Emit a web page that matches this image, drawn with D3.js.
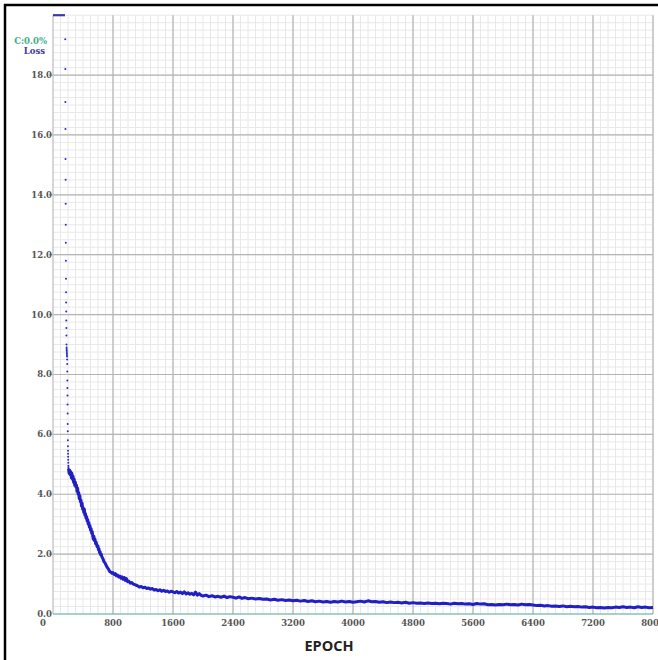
<!DOCTYPE html>
<html><head><meta charset="utf-8">
<script src="https://cdn.jsdelivr.net/npm/d3@7"></script>
<style>html,body{margin:0;padding:0;background:#fff;}svg{display:block;}</style>
</head><body>
<svg id="chart" width="658" height="660"></svg>
<script>
// ---- data ----
const xTicks = [0, 800, 1600, 2400, 3200, 4000, 4800, 5600, 6400, 7200, 8000];
const yTicks = [0, 2, 4, 6, 8, 10, 12, 14, 16, 18];
const legendLabels = ["C:0.0%", "Loss"];
const xLabel = "EPOCH";

// early epochs: loss above the top of the axis (clipped at 20)
const clippedEpochs = [0, 40, 80, 120, 160];
const clippedLoss = [20, 20, 20, 20, 20];

// steep drop: one dot per epoch
const dotEpochs = [163,164,165,166,167,168,169,170,171,172,173,174,175,176,177,178,179,180,181,182,183,184,185,186,187,188,189,190,191,192,193,194,195,196,197,198,199,200,201,202,203,204,205,206,207];
const dotLoss = [19.2,18.2,17.1,16.2,15.2,14.5,13.7,13.0,12.4,11.8,11.2,10.75,10.4,10.1,9.8,9.55,9.3,9.0,8.9,8.85,8.8,8.75,8.7,8.65,8.6,8.5,8.35,8.1,7.8,7.55,7.3,7.0,6.7,6.35,6.1,5.8,5.6,5.45,5.35,5.25,5.15,5.05,4.95,4.9,4.85];

// main loss curve
const curveEpochs = [208,215,222,230,238,245,252,260,268,275,283,290,298,305,313,320,328,335,343,350,358,365,373,380,388,395,403,410,418,425,433,440,448,455,463,470,478,485,493,500,508,515,523,530,538,545,553,560,568,575,583,590,598,605,613,620,628,635,643,650,665,680,695,710,725,740,755,770,785,800,815,830,845,860,875,890,905,920,935,950,965,980,995,1010,1030,1050,1070,1090,1110,1130,1150,1175,1200,1225,1250,1275,1300,1325,1350,1375,1400,1425,1450,1475,1500,1525,1550,1575,1600,1625,1650,1675,1700,1725,1750,1775,1800,1825,1850,1875,1900,1925,1950,1975,2000,2040,2080,2120,2160,2200,2240,2280,2320,2360,2400,2440,2480,2520,2560,2600,2650,2700,2750,2800,2850,2900,2950,3000,3050,3100,3150,3200,3250,3300,3350,3400,3450,3500,3550,3600,3650,3700,3750,3800,3850,3900,3950,4000,4050,4100,4150,4200,4250,4300,4350,4400,4450,4500,4550,4600,4650,4700,4750,4800,4850,4900,4950,5000,5050,5100,5150,5200,5250,5300,5350,5400,5450,5500,5550,5600,5650,5700,5750,5800,5850,5900,5950,6000,6050,6100,6150,6200,6250,6300,6350,6400,6450,6500,6550,6600,6650,6700,6750,6800,6850,6900,6950,7000,7050,7100,7150,7200,7250,7300,7350,7400,7450,7500,7550,7600,7650,7700,7750,7800,7850,7900,7950,8000];
const curveLoss = [4.85,4.7,4.8,4.65,4.75,4.55,4.7,4.5,4.6,4.4,4.5,4.3,4.4,4.25,4.3,4.1,4.2,4.0,4.05,3.85,3.95,3.75,3.8,3.6,3.7,3.5,3.55,3.4,3.5,3.3,3.35,3.2,3.25,3.1,3.15,3.0,3.05,2.9,2.95,2.8,2.85,2.7,2.75,2.6,2.5,2.6,2.45,2.5,2.35,2.4,2.3,2.25,2.28,2.15,2.18,2.05,2.08,1.98,2.0,1.92,1.85,1.75,1.7,1.62,1.55,1.5,1.42,1.4,1.36,1.38,1.32,1.35,1.28,1.3,1.24,1.27,1.2,1.24,1.16,1.22,1.12,1.18,1.08,1.1,1.03,1.05,1.0,0.98,0.96,0.94,0.9,0.92,0.88,0.89,0.85,0.87,0.83,0.85,0.8,0.82,0.78,0.81,0.76,0.79,0.75,0.77,0.73,0.76,0.74,0.71,0.75,0.7,0.73,0.68,0.74,0.67,0.71,0.66,0.69,0.64,0.73,0.63,0.68,0.62,0.6,0.63,0.58,0.61,0.57,0.59,0.56,0.6,0.55,0.58,0.56,0.53,0.57,0.52,0.55,0.51,0.53,0.5,0.52,0.49,0.5,0.47,0.49,0.46,0.48,0.45,0.47,0.44,0.46,0.43,0.45,0.42,0.44,0.41,0.43,0.4,0.42,0.39,0.42,0.4,0.43,0.4,0.42,0.39,0.41,0.43,0.4,0.44,0.41,0.42,0.39,0.41,0.38,0.4,0.38,0.39,0.37,0.39,0.36,0.38,0.36,0.37,0.35,0.37,0.35,0.36,0.34,0.36,0.35,0.33,0.36,0.34,0.35,0.33,0.34,0.32,0.35,0.33,0.34,0.31,0.32,0.3,0.32,0.31,0.33,0.31,0.32,0.3,0.33,0.31,0.32,0.3,0.28,0.29,0.27,0.28,0.26,0.27,0.25,0.27,0.24,0.26,0.24,0.25,0.23,0.24,0.22,0.23,0.21,0.22,0.2,0.22,0.21,0.23,0.22,0.24,0.22,0.23,0.21,0.24,0.22,0.23,0.21,0.22,0.24,0.22,0.23];

// ---- layout ----
const svg = d3.select("#chart");
const W = 658, H = 660;
const mLeft = 53, mRight = 653, mTop = 15.2, mBottom = 614;
const x = d3.scaleLinear().domain([0, 8000]).range([mLeft, mRight]);
const y = d3.scaleLinear().domain([0, 20]).range([mBottom, mTop]).clamp(true);

svg.append("rect").attr("width", W).attr("height", H).attr("fill", "#fff");

// minor grid
const g = svg.append("g");
g.selectAll("line.mx").data(d3.range(0, 8001, 100)).join("line")
  .attr("x1", d => x(d)).attr("x2", d => x(d)).attr("y1", mTop).attr("y2", mBottom)
  .attr("stroke", "#e8e8e8").attr("stroke-width", 1);
g.selectAll("line.my").data(d3.range(0, 20.01, 0.25)).join("line")
  .attr("x1", mLeft).attr("x2", mRight).attr("y1", d => y(d)).attr("y2", d => y(d))
  .attr("stroke", "#e8e8e8").attr("stroke-width", 1);
// major grid
g.selectAll("line.Mx").data(xTicks.slice(1)).join("line")
  .attr("x1", d => x(d)).attr("x2", d => x(d)).attr("y1", mTop).attr("y2", mBottom)
  .attr("stroke", "#b4b4b4").attr("stroke-width", 1.2);
g.selectAll("line.My").data(yTicks.slice(1)).join("line")
  .attr("x1", mLeft - 4).attr("x2", mRight).attr("y1", d => y(d)).attr("y2", d => y(d))
  .attr("stroke", "#b4b4b4").attr("stroke-width", 1.2);

// axes lines
svg.append("line").attr("x1", x(0)).attr("x2", x(0)).attr("y1", mTop).attr("y2", mBottom)
  .attr("stroke", "#c4c4c4").attr("stroke-width", 1.2);
svg.append("line").attr("x1", mLeft).attr("x2", mRight).attr("y1", y(0)).attr("y2", y(0))
  .attr("stroke", "#5ab0a0").attr("stroke-width", 1.2);

// tick labels
const tickFont = "'DejaVu Serif', serif";
svg.append("g").selectAll("text").data(yTicks).join("text")
  .attr("x", mLeft - 1).attr("y", d => y(d) + 3)
  .attr("text-anchor", "end")
  .attr("font-family", tickFont).attr("font-weight", "bold").attr("font-size", 8.5)
  .attr("fill", "#555").text(d => d.toFixed(1));
svg.append("g").selectAll("text").data(xTicks).join("text")
  .attr("x", d => d === 0 ? x(d) - 10 : x(d)).attr("y", 626)
  .attr("text-anchor", "middle")
  .attr("font-family", tickFont).attr("font-weight", "bold").attr("font-size", 8.5)
  .attr("fill", "#555").text(d => String(d));

// axis title
svg.append("text").attr("x", 329).attr("y", 651).attr("text-anchor", "middle")
  .attr("font-family", "'Open Sans', sans-serif").attr("font-weight", "bold").attr("font-size", 14.5)
  .attr("fill", "#222").text(xLabel);

// legend
svg.append("text").attr("x", 47).attr("y", 44).attr("text-anchor", "end")
  .attr("font-family", tickFont).attr("font-weight", "bold").attr("font-size", 8.5)
  .attr("fill", "#3fae86").text(legendLabels[0]);
svg.append("text").attr("x", 45).attr("y", 54).attr("text-anchor", "end")
  .attr("font-family", tickFont).attr("font-weight", "bold").attr("font-size", 8.5)
  .attr("fill", "#3a3aa6").text(legendLabels[1]);

// clipped top segment
svg.append("path")
  .datum(clippedEpochs.map((e, i) => [e, clippedLoss[i]]))
  .attr("d", d3.line().x(d => x(d[0])).y(d => y(d[1])))
  .attr("fill", "none").attr("stroke", "#3c3ca0").attr("stroke-width", 2.2);

// dots
svg.append("g").selectAll("circle")
  .data(dotEpochs.map((e, i) => [e, dotLoss[i]])).join("circle")
  .attr("cx", d => x(d[0])).attr("cy", d => y(d[1])).attr("r", 1)
  .attr("fill", "#2a2ac0");

// curve
svg.append("path")
  .datum(curveEpochs.map((e, i) => [e, curveLoss[i]]))
  .attr("d", d3.line().x(d => x(d[0])).y(d => y(d[1])))
  .attr("fill", "none").attr("stroke", "#1f1fc4").attr("stroke-width", 3)
  .attr("stroke-linejoin", "round");

// frame
svg.append("line").attr("x1", 4).attr("x2", W).attr("y1", 5).attr("y2", 5)
  .attr("stroke", "#000").attr("stroke-width", 2.5);
svg.append("line").attr("x1", 5).attr("x2", 5).attr("y1", 4).attr("y2", H)
  .attr("stroke", "#000").attr("stroke-width", 2.5);
</script>
</body></html>
